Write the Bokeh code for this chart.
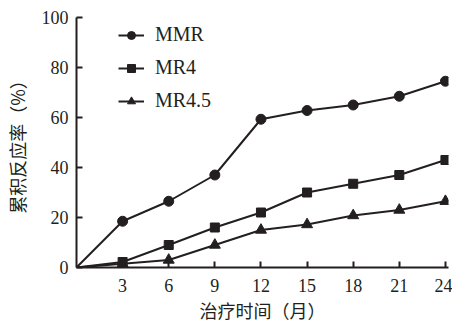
from bokeh.plotting import figure
from bokeh.models import Range1d, FixedTicker, Legend, LegendItem, ColumnDataSource
from bokeh.embed import file_html
from bokeh.resources import INLINE

months = [0, 3, 6, 9, 12, 15, 18, 21, 24]
mmr = [0, 18.5, 26.5, 37.0, 59.3, 62.8, 65.0, 68.5, 74.5]
mr4 = [0, 2.2, 9.0, 16.0, 22.0, 30.0, 33.5, 37.0, 43.0]
mr45 = [0, 1.5, 3.0, 9.0, 15.0, 17.2, 20.8, 23.0, 26.5]
series_names = ["MMR", "MR4", "MR4.5"]
x_ticks = [3, 6, 9, 12, 15, 18, 21, 24]
y_ticks = [0, 20, 40, 60, 80, 100]
x_label = "治疗时间（月）"
y_label = "累积反应率（%）"

INK = "#231f20"
SERIF = "Liberation Serif"
CJK = "Noto Sans CJK SC"

p = figure(width=452, height=326, output_backend="svg", toolbar_location=None,
           x_range=Range1d(0, 24.2), y_range=Range1d(0, 100),
           min_border_left=70, min_border_right=4, min_border_top=17, min_border_bottom=59)
p.grid.visible = False
p.outline_line_color = None
p.background_fill_color = "white"

for ax in (p.xaxis[0], p.yaxis[0]):
    ax.axis_line_width = 2
    ax.axis_line_color = INK
    ax.major_tick_line_width = 2
    ax.major_tick_line_color = INK
    ax.minor_tick_line_color = None
    ax.major_tick_out = 0
    ax.major_tick_in = 6
    ax.major_label_text_font = SERIF
    ax.major_label_text_font_size = "18px"
    ax.major_label_text_color = INK
    ax.axis_label_text_font = CJK
    ax.axis_label_text_font_size = "18px"
    ax.axis_label_text_font_style = "normal"
    ax.axis_label_text_color = INK

p.xaxis.ticker = FixedTicker(ticks=x_ticks)
p.yaxis.ticker = FixedTicker(ticks=y_ticks)
p.xaxis.axis_label = x_label
p.yaxis.axis_label = y_label
p.xaxis.major_label_standoff = 11
p.yaxis.major_label_standoff = 8
p.xaxis.axis_label_standoff = 2
p.yaxis.axis_label_standoff = 9

items = []
markers = ["circle", "square", "triangle"]
sizes = [10, 9, 11]
for name, vals, mk, sz in zip(series_names, [mmr, mr4, mr45], markers, sizes):
    src_line = ColumnDataSource(dict(x=months, y=vals))
    src_pts = ColumnDataSource(dict(x=months[1:], y=vals[1:]))
    ln = p.line("x", "y", source=src_line, line_width=2, line_color=INK)
    sc = p.scatter("x", "y", source=src_pts, marker=mk, size=sz,
                   fill_color=INK, line_color=INK)
    items.append(LegendItem(label=name, renderers=[ln, sc]))

legend = Legend(items=items, location=(42, 155), padding=0, margin=0,
                glyph_width=26, glyph_height=20, label_height=20, spacing=10,
                label_standoff=11, label_text_font=SERIF, label_text_font_size="20px",
                label_text_color=INK, border_line_color=None, background_fill_alpha=0)
p.add_layout(legend)

open("out.html", "w").write(file_html(p, INLINE))
